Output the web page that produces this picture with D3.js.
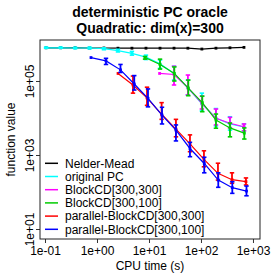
<!DOCTYPE html>
<html lang="en">
<head>
    <meta charset="UTF-8">
    <title>deterministic PC oracle</title>
    <script src="https://d3js.org/d3.v7.min.js"></script>
    <style>
        body {
            margin: 0;
            background-color: #ffffff;
            font-family: "Liberation Sans", Arial, sans-serif;
        }
        svg text {
            fill: #000;
        }
    </style>
</head>
<body>
    <svg id="chart"></svg>

    <script>
        // axis ticks
        const xTicks = [0.1, 1, 10, 100, 1000];
        const xTickLabels = ["1e-01", "1e+00", "1e+01", "1e+02", "1e+03"];
        const yTicks = [10, 1000, 100000];
        const yTickLabels = ["1e+01", "1e+03", "1e+05"];

        const seriesNames = ["Nelder-Mead", "original PC", "BlockCD[300,300]", "BlockCD[300,100]",
            "parallel-BlockCD[300,300]", "parallel-BlockCD[300,100]"];
        const seriesColors = ["#000000", "#00ffff", "#ff00ff", "#00cd00", "#ff0000", "#0000ff"];

        // Nelder-Mead
        const nmTime = [0.105, 0.2, 0.38, 0.72, 1.36, 2.53, 4.7, 8.75, 16.3, 30.3, 56, 104, 194, 361, 671];
        const nmValue = [7.9e5, 7.9e5, 7.9e5, 7.8e5, 7.8e5, 7.7e5, 7.7e5, 7.7e5, 7.7e5, 7.7e5, 7.7e5, 7.3e5, 7.7e5, 7.9e5, 8.1e5];

        // original PC
        const pcTime = [0.105, 0.2, 0.38, 0.72, 1.36, 2.53, 4.7, 8.75, 16.3, 30.3, 56, 104, 194, 361, 671];
        const pcValue = [7.9e5, 7.9e5, 7.8e5, 7.8e5, 7.5e5, 6.6e5, 5.6e5, 4.4e5, 2.9e5, 1.6e5, 6.5e4, 2.4e4, 1.0e4, 6.9e3, 5.7e3];
        const pcLow = [7.7e5, 7.7e5, 7.5e5, 7.4e5, 7.0e5, 6.1e5, 5.0e5, 3.8e5, 2.2e5, 1.06e5, 4.2e4, 1.55e4, 6.1e3, 4.7e3, 4.5e3];
        const pcHigh = [8.2e5, 8.2e5, 8.1e5, 8.2e5, 7.9e5, 7.2e5, 6.3e5, 5.0e5, 3.7e5, 2.5e5, 1.06e5, 4.7e4, 1.8e4, 1.08e4, 6.9e3];

        // BlockCD[300,300]
        const bc300Time = [16.0, 30.3, 56, 104, 194, 361, 671];
        const bc300Value = [1.6e5, 1.5e5, 6.6e4, 2.5e4, 9.8e3, 7.2e3, 5.8e3];
        const bc300Low = [1.6e5, 7.8e4, 4.2e4, 1.75e4, 6.5e3, 5.4e3, 4.5e3];
        const bc300High = [1.6e5, 2.5e5, 1.45e5, 3.9e4, 1.75e4, 1.04e4, 6.9e3];

        // BlockCD[300,100]
        const bc100Time = [8.4, 16.3, 30.7, 57, 106, 194, 361, 681];
        const bc100Value = [4.3e5, 2.8e5, 1.6e5, 6.4e4, 2.6e4, 8.8e3, 5.4e3, 3.9e3];
        const bc100Low = [3.9e5, 2.1e5, 1.0e5, 4.0e4, 1.48e4, 5.3e3, 3.1e3, 2.7e3];
        const bc100High = [4.6e5, 3.9e5, 2.4e5, 1.06e5, 3.9e4, 1.28e4, 7.3e3, 5.4e3];

        // parallel-BlockCD[300,300]
        const pbc300Time = [2.54, 4.92, 9.16, 17.5, 33, 61.4, 114, 212, 395, 733];
        const pbc300Value = [1.6e5, 7.8e4, 3.5e4, 1.26e4, 5.0e3, 2.0e3, 760, 320, 215, 190];
        const pbc300Low = [1.6e5, 4.7e4, 2.2e4, 9.2e3, 3.1e3, 1.23e3, 480, 210, 172, 155];
        const pbc300High = [1.6e5, 1.36e5, 6.8e4, 2.6e4, 9.2e3, 3.5e3, 1.3e3, 600, 330, 240];

        // parallel-BlockCD[300,100]
        const pbc100Time = [0.767, 1.49, 2.83, 5.21, 9.57, 17.8, 33, 61.4, 115.6, 215, 400, 750];
        const pbc100Value = [4.3e5, 3.5e5, 2.0e5, 8.3e4, 3.4e4, 1.2e4, 4.7e3, 1.5e3, 590, 210, 131, 106];
        const pbc100Low = [4.3e5, 2.8e5, 1.7e5, 5.7e4, 2.0e4, 6.9e3, 2.4e3, 900, 330, 134, 92, 79];
        const pbc100High = [4.3e5, 4.1e5, 2.8e5, 1.4e5, 6.1e4, 1.95e4, 6.5e3, 2.2e3, 870, 330, 190, 145];

        const series = [
            { time: nmTime, value: nmValue, low: null, high: null },
            { time: pcTime, value: pcValue, low: pcLow, high: pcHigh },
            { time: bc300Time, value: bc300Value, low: bc300Low, high: bc300High },
            { time: bc100Time, value: bc100Value, low: bc100Low, high: bc100High },
            { time: pbc300Time, value: pbc300Value, low: pbc300Low, high: pbc300High },
            { time: pbc100Time, value: pbc100Value, low: pbc100Low, high: pbc100High }
        ].map((s, i) => ({
            name: seriesNames[i],
            color: seriesColors[i],
            points: s.time.map((t, j) => ({
                t: t,
                v: s.value[j],
                lo: s.low ? s.low[j] : s.value[j],
                hi: s.high ? s.high[j] : s.value[j]
            }))
        }));

        const W = 280, H = 280;
        const plot = { left: 40, right: 260, top: 40, bottom: 239 };

        const svg = d3.select("#chart")
            .attr("width", W)
            .attr("height", H);

        const x = d3.scaleLog()
            .domain([Math.pow(10, -1.096), Math.pow(10, 3.135)])
            .range([plot.left, plot.right]);

        const y = d3.scaleLog()
            .domain([Math.pow(10, 0.73), Math.pow(10, 6.108)])
            .range([plot.bottom, plot.top]);

        // title
        svg.append("text")
            .attr("x", (plot.left + plot.right) / 2)
            .attr("y", 16.5)
            .attr("text-anchor", "middle")
            .style("font-size", "14px")
            .style("font-weight", "bold")
            .text("deterministic PC oracle");

        svg.append("text")
            .attr("x", (plot.left + plot.right) / 2)
            .attr("y", 33)
            .attr("text-anchor", "middle")
            .style("font-size", "14px")
            .style("font-weight", "bold")
            .text("Quadratic: dim(x)=300");

        // axes
        const xAxis = svg.append("g")
            .attr("transform", `translate(0,${plot.bottom})`)
            .call(d3.axisBottom(x)
                .tickValues(xTicks)
                .tickFormat((d, i) => xTickLabels[i])
                .tickSize(4)
                .tickPadding(3.5));
        xAxis.select(".domain").remove();
        xAxis.selectAll("text")
            .style("font-size", "12px")
            .style("font-family", "Liberation Sans, Arial, sans-serif");
        xAxis.selectAll("line").attr("stroke", "#333");

        const yAxis = svg.append("g")
            .attr("transform", `translate(${plot.left},0)`)
            .call(d3.axisLeft(y)
                .tickValues(yTicks)
                .tickFormat((d, i) => yTickLabels[i])
                .tickSize(4));
        yAxis.select(".domain").remove();
        yAxis.selectAll("line").attr("stroke", "#333");
        yAxis.selectAll("text")
            .attr("x", 0)
            .attr("y", 0)
            .attr("dy", 0)
            .attr("text-anchor", "middle")
            .attr("transform", "translate(-6,0) rotate(-90)")
            .style("font-size", "12px")
            .style("font-family", "Liberation Sans, Arial, sans-serif");

        // axis titles
        svg.append("text")
            .attr("x", (plot.left + plot.right) / 2)
            .attr("y", 269.5)
            .attr("text-anchor", "middle")
            .style("font-size", "12px")
            .text("CPU time (s)");

        svg.append("text")
            .attr("transform", `translate(15,${(plot.top + plot.bottom) / 2}) rotate(-90)`)
            .attr("text-anchor", "middle")
            .style("font-size", "12px")
            .text("function value");

        // series
        const line = d3.line()
            .x(d => x(d.t))
            .y(d => y(d.v));

        series.forEach(s => {
            const g = svg.append("g");

            g.append("path")
                .datum(s.points)
                .attr("fill", "none")
                .attr("stroke", s.color)
                .attr("stroke-width", 1.2)
                .attr("d", line);

            const bars = s.points.filter(d => d.hi > d.lo);

            g.selectAll(".stem")
                .data(bars)
                .enter().append("line")
                .attr("x1", d => x(d.t))
                .attr("x2", d => x(d.t))
                .attr("y1", d => y(d.hi))
                .attr("y2", d => y(d.lo))
                .attr("stroke", s.color)
                .attr("stroke-width", 1.8);

            ["hi", "lo"].forEach(k => {
                g.selectAll(".cap-" + k)
                    .data(bars)
                    .enter().append("line")
                    .attr("x1", d => x(d.t) - 2.2)
                    .attr("x2", d => x(d.t) + 2.2)
                    .attr("y1", d => y(d[k]))
                    .attr("y2", d => y(d[k]))
                    .attr("stroke", s.color)
                    .attr("stroke-width", 1.6);
            });

            g.selectAll(".dot")
                .data(s.points)
                .enter().append("rect")
                .attr("x", d => x(d.t) - 1.4)
                .attr("y", d => y(d.v) - 1.4)
                .attr("width", 2.8)
                .attr("height", 2.8)
                .attr("fill", s.color);
        });

        // plot frame
        svg.append("rect")
            .attr("x", plot.left)
            .attr("y", plot.top)
            .attr("width", plot.right - plot.left)
            .attr("height", plot.bottom - plot.top)
            .attr("fill", "none")
            .attr("stroke", "#222")
            .attr("stroke-width", 1);

        // legend
        const legend = svg.append("g");
        series.forEach((s, i) => {
            const ly = 163.3 + i * 13.2;
            legend.append("line")
                .attr("x1", 45)
                .attr("x2", 58)
                .attr("y1", ly)
                .attr("y2", ly)
                .attr("stroke", s.color)
                .attr("stroke-width", 1.5);
            legend.append("text")
                .attr("x", 65)
                .attr("y", ly)
                .attr("dy", "0.35em")
                .style("font-size", "12px")
                .text(s.name);
        });
    </script>
</body>
</html>
